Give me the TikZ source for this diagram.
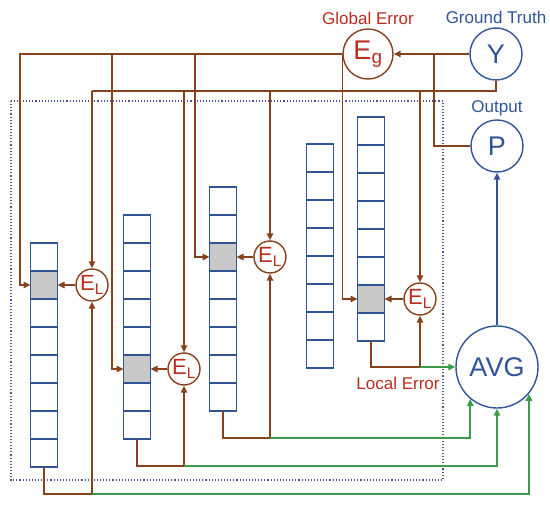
\documentclass[tikz,border=0pt]{standalone}
\usepackage{fontspec}
\setmainfont{Liberation Sans}
\usepackage{tikz}
\usetikzlibrary{arrows.meta, positioning, calc}

\definecolor{netblue}{RGB}{47,85,151}
\definecolor{errbrown}{RGB}{135,65,28}
\definecolor{errred}{RGB}{185,45,30}
\definecolor{avggreen}{RGB}{60,155,75}
\definecolor{cellgray}{RGB}{200,200,200}
\definecolor{framblue}{RGB}{70,85,150}

\begin{document}
\begin{tikzpicture}[x=1pt, y=-1pt,
    cell/.style={rectangle, draw=netblue, line width=1.3pt, minimum width=27pt, minimum height=28pt, inner sep=0pt, outer sep=0pt},
    bignode/.style={circle, draw=netblue, line width=1.4pt, text=netblue, inner sep=0pt, font=\fontsize{27}{32}\selectfont},
    errnode/.style={circle, draw=errbrown, line width=1.4pt, text=errred, inner sep=0pt, font=\fontsize{27}{32}\selectfont},
    localnode/.style={circle, draw=errbrown, line width=1.4pt, text=errred, minimum size=32pt, inner sep=0pt, font=\fontsize{22}{26}\selectfont},
    tag/.style={font=\fontsize{17}{20}\selectfont, inner sep=1pt},
    errline/.style={draw=errbrown, line width=1.5pt},
    errarrow/.style={errline, -{Triangle[length=7pt, width=6.5pt]}},
    avgarrow/.style={draw=avggreen, line width=1.5pt, -{Triangle[length=7pt, width=6.5pt]}},
    outarrow/.style={draw=netblue, line width=1.5pt, -{Triangle[length=7pt, width=6.5pt]}}]

    \useasboundingbox (0,0) rectangle (550,506);
    \draw[framblue, dotted, line width=1.1pt] (11,101) rectangle (443,480);

    % stacks of cells, one gray cell each
    \foreach \i/\x/\t/\g in {1/44/243/2, 2/137/215/6, 3/223/187/3, 4/320/144/0, 5/371/117/7} {
        \foreach \k in {1,...,8} {
            \ifnum\k=\g \def\fc{cellgray}\else\def\fc{white}\fi
            \node[cell, fill=\fc] (c\i-\k) at (\x, {\t+14+28*(\k-1)}) {};
        }
    }

    \node[errnode, minimum size=50pt] (eg) at (368,54) {E\textsubscript{g}};
    \node[bignode, minimum size=52pt] (gt) at (496,54) {Y};
    \node[bignode, minimum size=52pt] (out) at (497,146) {P};
    \node[bignode, minimum size=82pt, font=\fontsize{27}{32}\selectfont] (avg) at (497,367) {AVG};

    \node[localnode] (el1) at (92,285) {E\textsubscript{L}};
    \node[localnode] (el2) at (184,369) {E\textsubscript{L}};
    \node[localnode] (el3) at (270,257) {E\textsubscript{L}};
    \node[localnode] (el5) at (420,299) {E\textsubscript{L}};

    \node[tag, text=errred, above=2pt of eg] (globallabel) {Global Error};
    \node[tag, text=netblue, above=2pt of gt] (truthlabel) {Ground Truth};
    \node[tag, text=netblue, above=2pt of out] (outlabel) {Output};
    \node[tag, text=errred] (locallabel) at (398,383) {Local Error};

    \coordinate (g1) at (20,54);
    \coordinate (g2) at (112,54);
    \coordinate (g3) at (195,54);
    \coordinate (pj) at (434,54);
    \coordinate (t1) at (92,91);
    \coordinate (t2) at (184,91);
    \coordinate (t3) at (270,91);
    \coordinate (t5) at (420,91);
    \coordinate (b1) at (92,494);
    \coordinate (b2) at (184,466);
    \coordinate (b3) at (270,438);
    \coordinate (b5) at (420,367);

    \draw[errarrow] (gt.west) -- (eg.east);
    \draw[errline] (out.west) -| (pj);
    \draw[errarrow] (eg.west) -- (g1) |- (c1-2.west);
    \draw[errarrow] (g2) |- (c2-6.west);
    \draw[errarrow] (g3) |- (c3-3.west);
    \draw[errarrow] (eg.west) |- (c5-7.west);

    \draw[errline] (gt.south) |- (t1);
    \draw[errarrow] (t1) -- (el1.north);
    \draw[errarrow] (t2) -- (el2.north);
    \draw[errarrow] (t3) -- (el3.north);
    \draw[errarrow] (t5) -- (el5.north);

    \draw[errarrow] (el1.west) -- (c1-2.east);
    \draw[errarrow] (el2.west) -- (c2-6.east);
    \draw[errarrow] (el3.west) -- (c3-3.east);
    \draw[errarrow] (el5.west) -- (c5-7.east);

    \draw[errline] (c1-8.south) |- (b1);
    \draw[errline] (c2-8.south) |- (b2);
    \draw[errline] (c3-8.south) |- (b3);
    \draw[errline] (c5-8.south) |- (b5);
    \draw[errarrow] (b1) -- (el1.south);
    \draw[errarrow] (b2) -- (el2.south);
    \draw[errarrow] (b3) -- (el3.south);
    \draw[errarrow] (b5) -- (el5.south);

    \draw[avgarrow] (b1) -| (avg.-40);
    \draw[avgarrow] (b2) -| (avg.south);
    \draw[avgarrow] (b3) -| (avg.-130);
    \draw[avgarrow] (b5) -- (avg.west);

    \draw[outarrow] (avg.north) -- (out.south);
\end{tikzpicture}
\end{document}
